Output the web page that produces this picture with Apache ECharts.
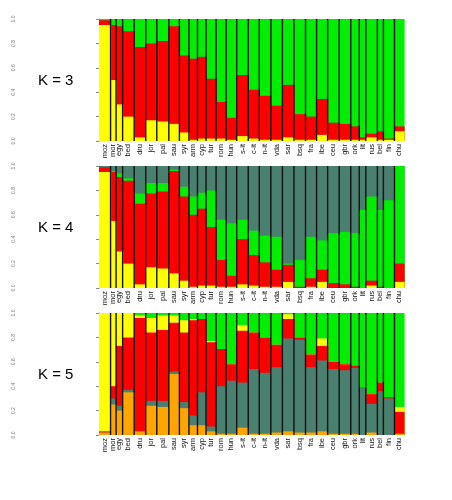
<!DOCTYPE html>
<html>
<head>
<meta charset="utf-8">
<script src="https://cdn.jsdelivr.net/npm/echarts@6/dist/echarts.min.js"></script>
<style>
html, body { margin: 0; padding: 0; background: #fff; }
#main { width: 452px; height: 500px; }
</style>
</head>
<body>
<div id="main"></div>
<script>
// populations, left to right
var pops = ['moz', 'mor', 'egy', 'bed', 'dru', 'jor', 'pal', 'sau', 'syr', 'arm',
    'cyp', 'tur', 'rom', 'hun', 's-it', 'c-it', 'n-it', 'vda', 'sar', 'bsq',
    'fra', 'ibe', 'ceu', 'gbr', 'ork', 'lit', 'rus', 'bel', 'fin', 'chu'];
// individuals per population
var sampleSize = [23, 11, 13, 23, 23, 22, 24, 21, 19, 17,
    17, 20, 20, 21, 23, 22, 23, 23, 23, 23,
    22, 22, 23, 23, 17, 13, 23, 12, 22, 19];
var yTicks = [0, 0.2, 0.4, 0.6, 0.8, 1.0];

// K = 3 (bottom to top: yellow, red, green)
var k3Yellow = [0.95, 0.50, 0.30, 0.20, 0.03, 0.17, 0.16, 0.14, 0.07, 0.01,
    0.02, 0.02, 0.02, 0.01, 0.04, 0.02, 0.01, 0.01, 0.03, 0.01,
    0.01, 0.05, 0.01, 0.01, 0.01, 0.01, 0.03, 0.01, 0.01, 0.08];
var k3Red = [0.04, 0.45, 0.64, 0.70, 0.74, 0.63, 0.66, 0.80, 0.63, 0.665,
    0.67, 0.49, 0.30, 0.18, 0.50, 0.40, 0.36, 0.28, 0.43, 0.21,
    0.19, 0.295, 0.14, 0.13, 0.11, 0.02, 0.03, 0.07, 0.01, 0.04];
var k3Green = [0.01, 0.05, 0.06, 0.10, 0.23, 0.20, 0.18, 0.06, 0.30, 0.325,
    0.31, 0.49, 0.68, 0.81, 0.46, 0.58, 0.63, 0.71, 0.54, 0.78,
    0.80, 0.655, 0.85, 0.86, 0.88, 0.97, 0.94, 0.92, 0.98, 0.88];

// K = 4 (bottom to top: yellow, red, green, teal)
var k4Yellow = [0.95, 0.55, 0.30, 0.20, 0.03, 0.17, 0.16, 0.12, 0.06, 0.01,
    0.02, 0.02, 0.01, 0.01, 0.03, 0.02, 0.01, 0.01, 0.05, 0.00,
    0.01, 0.05, 0.00, 0.00, 0.00, 0.00, 0.02, 0.00, 0.00, 0.05];
var k4Red = [0.04, 0.40, 0.61, 0.68, 0.66, 0.605, 0.63, 0.84, 0.69, 0.59,
    0.63, 0.48, 0.22, 0.09, 0.37, 0.25, 0.20, 0.14, 0.14, 0.01,
    0.07, 0.10, 0.04, 0.03, 0.01, 0.00, 0.04, 0.01, 0.00, 0.15];
var k4Green = [0.00, 0.01, 0.03, 0.02, 0.085, 0.085, 0.07, 0.01, 0.08, 0.15,
    0.13, 0.30, 0.33, 0.43, 0.16, 0.20, 0.22, 0.27, 0.01, 0.22,
    0.34, 0.24, 0.41, 0.43, 0.44, 0.64, 0.69, 0.63, 0.72, 0.80];
var k4Teal = [0.01, 0.04, 0.06, 0.10, 0.225, 0.14, 0.14, 0.03, 0.17, 0.25,
    0.22, 0.20, 0.44, 0.47, 0.44, 0.53, 0.57, 0.58, 0.80, 0.77,
    0.58, 0.61, 0.55, 0.54, 0.55, 0.36, 0.25, 0.36, 0.28, 0.00];

// K = 5 (bottom to top: orange, teal, red, yellow, green)
var k5Orange = [0.02, 0.25, 0.20, 0.35, 0.03, 0.24, 0.23, 0.50, 0.22, 0.08,
    0.08, 0.03, 0.01, 0.01, 0.06, 0.01, 0.01, 0.02, 0.03, 0.02,
    0.02, 0.03, 0.01, 0.01, 0.01, 0.00, 0.02, 0.00, 0.00, 0.01];
var k5Teal = [0.00, 0.05, 0.04, 0.02, 0.00, 0.04, 0.05, 0.02, 0.05, 0.08,
    0.27, 0.04, 0.39, 0.435, 0.37, 0.53, 0.50, 0.535, 0.76, 0.76,
    0.535, 0.58, 0.53, 0.52, 0.54, 0.39, 0.235, 0.36, 0.30, 0.00];
var k5Red = [0.01, 0.10, 0.49, 0.43, 0.93, 0.56, 0.58, 0.40, 0.57, 0.78,
    0.60, 0.69, 0.305, 0.135, 0.425, 0.30, 0.29, 0.185, 0.16, 0.02,
    0.105, 0.12, 0.06, 0.05, 0.02, 0.00, 0.08, 0.07, 0.01, 0.18];
var k5Yellow = [0.97, 0.60, 0.27, 0.20, 0.02, 0.12, 0.12, 0.06, 0.10, 0.01,
    0.00, 0.01, 0.00, 0.00, 0.045, 0.00, 0.00, 0.00, 0.04, 0.00,
    0.00, 0.06, 0.00, 0.00, 0.00, 0.00, 0.00, 0.00, 0.00, 0.04];
var k5Green = [0.00, 0.00, 0.00, 0.00, 0.02, 0.04, 0.02, 0.02, 0.06, 0.05,
    0.05, 0.23, 0.295, 0.42, 0.10, 0.16, 0.20, 0.26, 0.01, 0.20,
    0.34, 0.21, 0.40, 0.42, 0.43, 0.61, 0.665, 0.57, 0.69, 0.77];

var YELLOW = '#ffff00', RED = '#ff0000', GREEN = '#00ee00', TEAL = '#4a8070', ORANGE = '#ffa500';

var panels = [
    { label: 'K = 3', comps: [k3Yellow, k3Red, k3Green], colors: [YELLOW, RED, GREEN] },
    { label: 'K = 4', comps: [k4Yellow, k4Red, k4Green, k4Teal], colors: [YELLOW, RED, GREEN, TEAL] },
    { label: 'K = 5', comps: [k5Orange, k5Teal, k5Red, k5Yellow, k5Green], colors: [ORANGE, TEAL, RED, YELLOW, GREEN] }
];

// population edges and centres on the x scale
var edges = [0];
for (var i = 0; i < sampleSize.length; i++) {
    edges.push(edges[i] + sampleSize[i]);
}
var total = edges[edges.length - 1];
var centers = [];
for (var i = 0; i < pops.length; i++) {
    centers.push((edges[i] + edges[i + 1]) / 2);
}

function popName(v) {
    var best = 0;
    for (var i = 1; i < centers.length; i++) {
        if (Math.abs(centers[i] - v) < Math.abs(centers[best] - v)) best = i;
    }
    return pops[best];
}

function blockRender(color) {
    return function (params, api) {
        var p0 = api.coord([api.value(0), api.value(3)]);
        var p1 = api.coord([api.value(1), api.value(2)]);
        return {
            type: 'rect',
            shape: { x: p0[0], y: p0[1], width: p1[0] - p0[0] + 0.6, height: p1[1] - p0[1] },
            style: { fill: color }
        };
    };
}

function sepRender(params, api) {
    var a = api.coord([api.value(0), 0]);
    var b = api.coord([api.value(0), 1]);
    return {
        type: 'line',
        shape: { x1: a[0], y1: a[1], x2: b[0], y2: b[1] },
        style: { stroke: '#111', lineWidth: 1.4 }
    };
}

var gridTops = [19, 166, 313];
var grids = [], xAxes = [], yAxes = [], series = [], graphics = [];

panels.forEach(function (panel, g) {
    grids.push({ left: 99, width: 305, top: gridTops[g], height: 122 });
    xAxes.push({
        gridIndex: g, type: 'value', min: 0, max: total,
        axisLine: { show: false }, axisTick: { show: false }, splitLine: { show: false },
        axisLabel: {
            customValues: centers, rotate: 90, margin: 3,
            fontSize: 7.5, color: '#111', fontFamily: 'Liberation Sans',
            formatter: function (v) { return popName(v); }
        }
    });
    yAxes.push({
        gridIndex: g, type: 'value', min: 0, max: 1, interval: 0.2,
        position: 'left', offset: 79,
        axisLine: { show: true, lineStyle: { color: '#888', width: 1 } },
        axisTick: { show: true, length: 3, lineStyle: { color: '#888' } },
        splitLine: { show: false },
        axisLabel: {
            rotate: 90, margin: 4, fontSize: 5, color: '#777',
            customValues: yTicks,
            formatter: function (v) { return v.toFixed(1); }
        }
    });

    // cumulative tops, drawn from the top component down so lower ones cover
    var cum = [];
    for (var i = 0; i < pops.length; i++) cum.push(0);
    var stacks = [];
    panel.comps.forEach(function (arr) {
        var d = [];
        for (var i = 0; i < pops.length; i++) {
            cum[i] += arr[i];
            d.push([edges[i], edges[i + 1], 0, Math.min(cum[i], 1)]);
        }
        stacks.push(d);
    });
    for (var c = stacks.length - 1; c >= 0; c--) {
        series.push({
            type: 'custom', xAxisIndex: g, yAxisIndex: g,
            renderItem: blockRender(panel.colors[c]),
            encode: { x: [0, 1], y: [2, 3] },
            data: stacks[c], silent: true, animation: false
        });
    }
    series.push({
        type: 'custom', xAxisIndex: g, yAxisIndex: g,
        renderItem: sepRender,
        encode: { x: 0 },
        data: edges.slice(1, edges.length - 1).map(function (e) { return [e]; }),
        silent: true, animation: false, z: 5
    });

    graphics.push({
        type: 'text', left: 38, top: gridTops[g] + 54,
        style: { text: panel.label, fontSize: 15, fontFamily: 'Liberation Sans', fill: '#000' }
    });
});

var chartDom = document.getElementById('main');
var myChart = echarts.init(chartDom);
myChart.setOption({
    backgroundColor: '#fff',
    animation: false,
    grid: grids,
    xAxis: xAxes,
    yAxis: yAxes,
    series: series,
    graphic: graphics
});
</script>
</body>
</html>
